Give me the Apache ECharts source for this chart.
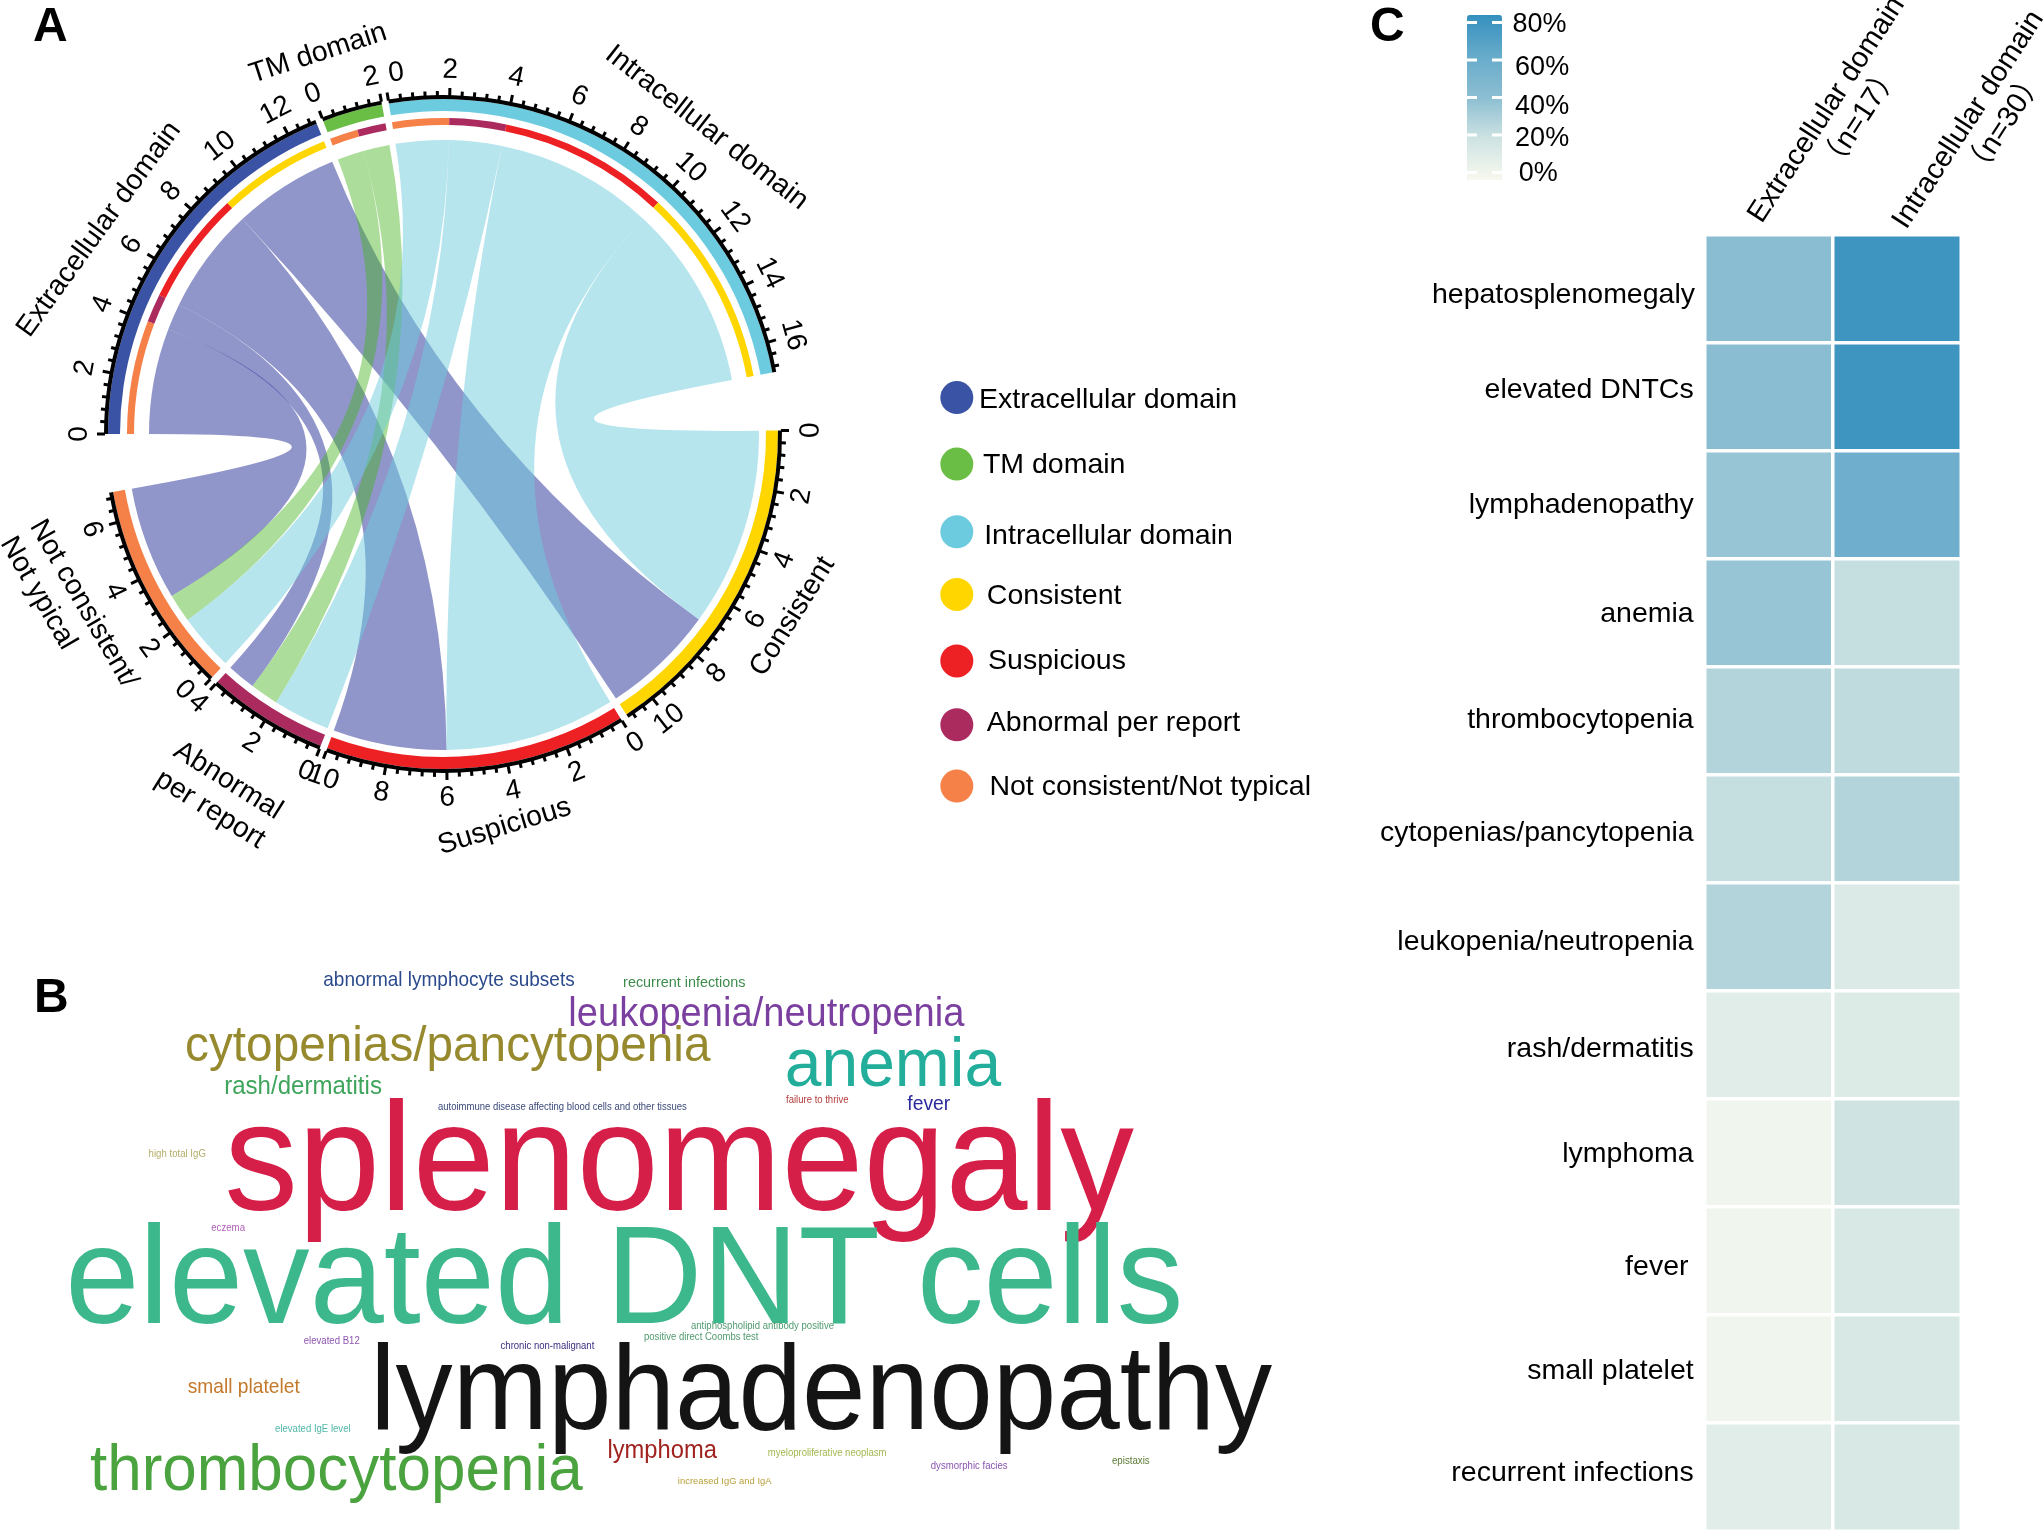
<!DOCTYPE html>
<html><head><meta charset="utf-8">
<style>html,body{margin:0;padding:0;background:#fff}#c{width:2044px;height:1534px}</style>
<script src="https://cdn.jsdelivr.net/npm/echarts@6/dist/echarts.min.js"></script>
</head><body><div id="c"></div>
<script>
// ---------- Panel A data
const sectorNames = ['Extracellular domain','TM domain','Intracellular domain','Consistent','Suspicious','Abnormal per report','Not consistent/Not typical'];
const sectorLabels = ['Extracellular domain','TM domain','Intracellular domain','Consistent','Suspicious','Abnormal\nper report','Not consistent/\nNot ypical'];
const sectorTotals = [13,2,17,11,10,4,7];
const linkFrom  = [0,0,0,0,1,1,2,2,2,2];
const linkTo    = [6,5,4,3,6,5,6,5,4,3];
const linkValue = [4,1,4,4,1,1,2,2,6,7];
const sectorColors = ['#3b53a4','#6abd45','#6dcbdf','#ffd600','#ed2024','#ab2b5f','#f58148'];
const ribbonColors = ['rgba(58,68,160,0.56)','rgba(70,180,30,0.45)','rgba(109,204,222,0.5)'];
// ---------- Panel B data
const words = ['abnormal lymphocyte subsets','recurrent infections','leukopenia/neutropenia','cytopenias/pancytopenia','anemia','rash/dermatitis','autoimmune disease affecting blood cells and other tissues','failure to thrive','fever','high total IgG','splenomegaly','eczema','elevated DNT cells','antiphospholipid antibody positive','positive direct Coombs test','elevated B12','chronic non-malignant','small platelet','lymphadenopathy','elevated IgE level','thrombocytopenia','lymphoma','myeloproliferative neoplasm','dysmorphic facies','epistaxis','increased IgG and IgA'];
const wordColors = ['#2b4a8c','#3d8b4a','#7b3fa0','#978a2e','#22ae9b','#3fa45c','#3b4a7a','#b33b3b','#2a2a9c','#b3ad6a','#d61f48','#b05fb8','#3cb88c','#4f9a6e','#4f9a6e','#8e55b0','#3a2f80','#c4782a','#141414','#4fb8a8','#4aa33f','#a0231f','#a3b84f','#8a55b0','#5b7a33','#b9a03a'];
const wordLeft  = [248,478,436,142,602,172,336,603,696,114,172,162,50,530,494,233,384,144,284,211,69,466,589,714,853,520];
const wordRight = [441,572,740,545,768,293,527,651,729,158,870,188,908,640,582,276,456,230,976,269,447,550,680,773,882,592];
const wordBase  = [756,757,786,813,832,839,851,846,851,887,925,944,1012,1019,1028,1031,1035,1068,1094,1098,1142,1118,1117,1127,1123,1138];
// ---------- Panel C data
const heatRows = ['hepatosplenomegaly','elevated DNTCs','lymphadenopathy','anemia','thrombocytopenia','cytopenias/pancytopenia','leukopenia/neutropenia','rash/dermatitis','lymphoma','fever','small platelet','recurrent infections'];
const heatCols = ['Extracellular domain\n          （n=17）','Intracellular domain\n          （n=30）'];
const extracellularPct = [41,41,36,36,27,21,27,8,0,0,0,8];
const intracellularPct = [80,80,57,21,23,27,11,10,18,13,13,13];
const scaleTicks = [80,60,40,20,0];
// ---------- Layout
const S = 2044/1568;               // reference coordinates were read on the shrunk picture
const FONT = '"Liberation Sans", Arial, "Noto Sans CJK SC", sans-serif';
const CX = 443, CY = 434;
const UNIT = 5.22, SMALL = 1.2, BIG = 9.96;
const gaps = [SMALL,SMALL,BIG,SMALL,SMALL,SMALL,BIG];
const R_RING0 = 335, R_RING1 = 339, R_TRACK0 = 323, R_INNER1 = 316, R_INNER0 = 309, R_FROM = 294, R_TO = 316, R_TICKLABEL = 364;
const labelPosX = [76,244,542,608,387,168,16.5];
const labelPosY = [176,41,98,473,634,610,407];
const labelRot  = [54,18,-38,58,17,-32,-60];
const labelAlign = ['center','center','center','center','center','center','left'];
const legendTextX = [751,754,755,757,758,757,759];
const legendTextY = [307,357,411,457,507,555,604];
const legendDotY  = [305,356,408,456,507,556,603];
const scaleLabelX = [1181,1183,1183,1183,1180];
const scaleLabelY = [19,52,82,106,133];
const rowNudgeY = [5,-5,0,1,-1,3,4,3,1,5,2,-3];
const rowNudgeX = [0,1,1,1,1,1,1,1,1,5,1,1];
const colPadTop = [-33,-16];
const colPadLeft = [0,4];
const tickLabelNudge = {'1_2':-0.9,'2_0':1.9,'4_10':-1,'5_0':0.7,'6_0':1.8};
const VM = {left:1467, top:15, w:35, h:165, min:-4, max:84};

// ---------- Geometry from the data
const sectorStart = []; let acc = 270;
sectorTotals.forEach((t,i)=>{ sectorStart[i]=acc; acc += t*UNIT + gaps[i]; });
const ang = (s,v)=> sectorStart[s] + v*UNIT;
const pt = (clock,r)=>{ const a=(clock-90)*Math.PI/180; return [CX+r*Math.cos(a), CY+r*Math.sin(a)]; };
const rad = clock => (clock-90)*Math.PI/180;
const fromOff = linkFrom.map(()=>0), toOff = linkFrom.map(()=>0);
(function(){
  const f = {}, t = {};
  linkFrom.forEach((s,i)=>{ f[s]=f[s]||0; fromOff[i]=f[s]; f[s]+=linkValue[i]; });
  for (let i=linkFrom.length-1;i>=0;){            // stack on target: Intra, TM, Ext
    const s=linkFrom[i]; let j=i; while(j>=0&&linkFrom[j]===s) j--;
    for(let k=j+1;k<=i;k++){ const d=linkTo[k]; t[d]=t[d]||0; toOff[k]=t[d]; t[d]+=linkValue[k]; }
    i=j;
  }
})();
function ribbonPath(i){
  const a1=ang(linkFrom[i],fromOff[i]), a2=ang(linkFrom[i],fromOff[i]+linkValue[i]);
  const b1=ang(linkTo[i],toOff[i]), b2=ang(linkTo[i],toOff[i]+linkValue[i]);
  const p1=pt(a1,R_FROM),p2=pt(a2,R_FROM),q1=pt(b1,R_TO),q2=pt(b2,R_TO);
  return `M${p1} A${R_FROM} ${R_FROM} 0 0 1 ${p2} Q${CX} ${CY} ${q1} A${R_TO} ${R_TO} 0 0 1 ${q2} Q${CX} ${CY} ${p1} Z`;
}
const tickList = [];
sectorTotals.forEach((t,s)=>{
  for(let k=0;k*0.4<=t+1e-6;k++){ tickList.push([s,k*0.4,k%5===0?1:0]); }
});
const numberLabels = [];
sectorTotals.forEach((t,s)=>{ for(let v=0;v<=t;v+=2) numberLabels.push([s,v]); });
const faceRot = c => { const n=((c%360)+360)%360; return (n>90&&n<270)? -(n-180)*Math.PI/180 : -(n>180?n-360:n)*Math.PI/180; };
const mc = document.createElement('canvas').getContext('2d');
mc.font = '100px "Liberation Sans"';
const WORD_STRETCH = 1.05;

const custom = (n, fn, extra) => Object.assign({type:'custom',coordinateSystem:'none',silent:true,animation:false,clip:false,
  data:Array.from({length:n},(_,i)=>[i]),renderItem:(p)=>fn(p.dataIndex)},extra||{});
const sectorEl = (c1,c2,r0,r,fill)=>({type:'sector',shape:{cx:CX,cy:CY,r0,r,startAngle:rad(c1),endAngle:rad(c2),clockwise:true},style:{fill}});
const textEl = (text,x,y,size,rotation,extra)=>({type:'text',x,y,rotation:rotation||0,style:Object.assign({text,x:0,y:0,fill:'#000',fontFamily:FONT,fontSize:size,align:'center',verticalAlign:'middle'},extra||{})});

const option = {
  backgroundColor:'#fff', animation:false,
  textStyle:{fontFamily:FONT},
  title:[
    {text:'A',left:33,top:4,padding:0,textStyle:{fontFamily:FONT,fontWeight:'bold',fontSize:48,color:'#000'}},
    {text:'B',left:34,top:975,padding:0,textStyle:{fontFamily:FONT,fontWeight:'bold',fontSize:48,color:'#000'}},
    {text:'C',left:1370,top:4,padding:0,textStyle:{fontFamily:FONT,fontWeight:'bold',fontSize:48,color:'#000'}}
  ],
  grid:{left:1705,top:235,width:256,height:1296,containLabel:false,outerBoundsMode:'none'},
  xAxis:{type:'category',position:'top',axisLine:{show:false},axisTick:{show:false},splitLine:{show:false},
    data:heatCols.map((c,i)=>({value:c,textStyle:{verticalAlign:'top',padding:[colPadTop[i],0,0,colPadLeft[i]]}})),
    axisLabel:{interval:0,rotate:-57,align:'left',margin:6,fontSize:29,lineHeight:33,color:'#000',fontFamily:FONT,hideOverlap:false}},
  yAxis:{type:'category',inverse:true,axisLine:{show:false},axisTick:{show:false},splitLine:{show:false},
    data:heatRows.map((r,i)=>({value:r,textStyle:{verticalAlign:'top',lineHeight:33,padding:[rowNudgeY[i]*S-16.5,rowNudgeX[i]*S,0,0]}})),
    axisLabel:{interval:0,margin:10,fontSize:28.5,color:'#000',fontFamily:FONT}},
  visualMap:{type:'continuous',min:VM.min,max:VM.max,left:VM.left,top:VM.top,itemWidth:VM.w,itemHeight:VM.h,calculable:false,text:null,showLabel:false,
    seriesIndex:0,padding:0,inRange:{color:['#f8f9ef','#cee3e2','#8cbed2','#67abcb','#3590be']},textStyle:{fontSize:1,color:'rgba(0,0,0,0)'}},
  series:[
    {type:'heatmap',animation:false,silent:true,itemStyle:{borderColor:'#fff',borderWidth:3.5},
      data:heatRows.flatMap((r,i)=>[[0,i,extracellularPct[i]],[1,i,intracellularPct[i]]])},
    // chord ribbons
    custom(linkFrom.length,i=>({type:'path',shape:{pathData:ribbonPath(i)},style:{fill:ribbonColors[linkFrom[i]]}}),{z:2}),
    // outer tracks
    custom(sectorTotals.length,i=>({type:'group',children:[
      sectorEl(ang(i,0),ang(i,sectorTotals[i]),R_TRACK0,R_RING0,sectorColors[i]),
      sectorEl(ang(i,0),ang(i,sectorTotals[i]),R_RING0,R_RING1,'#000')]}),{z:3}),
    // inner stacked track on the domain sectors
    custom(linkFrom.length,i=>sectorEl(ang(linkFrom[i],fromOff[i]),ang(linkFrom[i],fromOff[i]+linkValue[i]),R_INNER0,R_INNER1,sectorColors[linkTo[i]]),{z:3}),
    // ticks
    custom(tickList.length,i=>{ const [s,v,maj]=tickList[i]; const c=ang(s,v); const a=pt(c,R_RING1-1), b=pt(c,R_RING1+(maj?7:4));
      return {type:'line',shape:{x1:a[0],y1:a[1],x2:b[0],y2:b[1]},style:{stroke:'#000',lineWidth:3}}; },{z:3}),
    // axis numbers
    custom(numberLabels.length,i=>{ const [s,v]=numberLabels[i]; const c=ang(s,v)+(tickLabelNudge[s+'_'+v]||0); const p=pt(c,R_TICKLABEL);
      return textEl(String(v),p[0],p[1],28,faceRot(c)); },{z:4}),
    // sector names
    custom(sectorLabels.length,i=>textEl(sectorLabels[i],labelPosX[i]*S,labelPosY[i]*S,28.5,labelRot[i]*Math.PI/180,{lineHeight:34,align:labelAlign[i]}),{z:4}),
    // legend
    custom(sectorNames.length,i=>({type:'group',children:[
      {type:'circle',shape:{cx:734*S,cy:legendDotY[i]*S,r:16.5},style:{fill:sectorColors[i]}},
      textEl(sectorNames[i],legendTextX[i]*S,legendTextY[i]*S,28.5,0,{align:'left'})]}),{z:4}),
    // word cloud
    custom(words.length,i=>{ const L=wordLeft[i]*S,Rr=wordRight[i]*S; const w=mc.measureText(words[i]).width/100; const F=(Rr-L)/w*WORD_STRETCH;
      const base=wordBase[i]*S; const el=textEl(words[i],L,base-0.25*F,F,0,{align:'left',fill:wordColors[i]}); el.scaleX=1/WORD_STRETCH; return el; },{z:4}),
    // colour bar ticks and labels
    custom(scaleTicks.length,i=>{ const y=VM.top+(VM.max-scaleTicks[i])/(VM.max-VM.min)*VM.h;
      return {type:'group',children:[
        {type:'rect',shape:{x:VM.left,y:y-1.5,width:10,height:3},style:{fill:'#fff'}},
        {type:'rect',shape:{x:VM.left+VM.w-10,y:y-1.5,width:10,height:3},style:{fill:'#fff'}},
        textEl(scaleTicks[i]+'%',scaleLabelX[i]*S,scaleLabelY[i]*S,27,0)]}; },{z:5})
  ]
};
const chart = echarts.init(document.getElementById('c'),null,{renderer:'canvas',width:2044,height:1534});
chart.setOption(option);
</script></body></html>
